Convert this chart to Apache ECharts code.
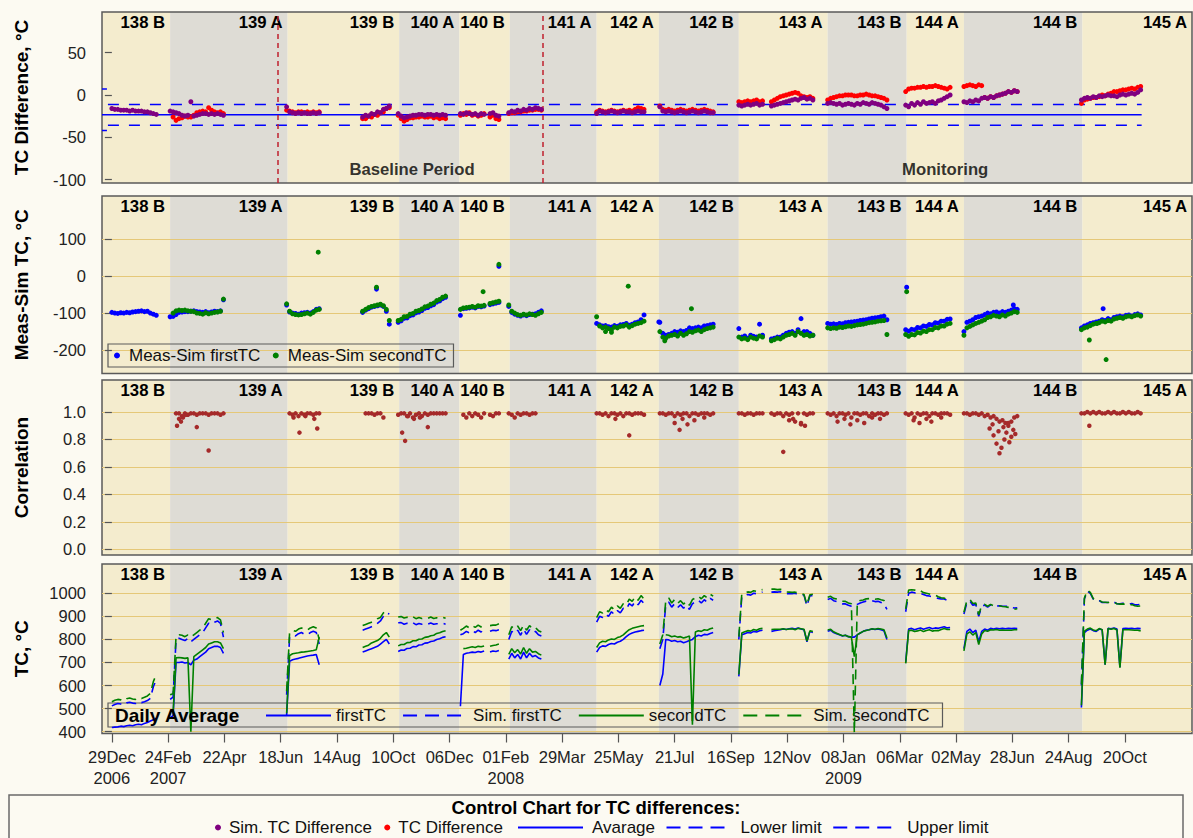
<!DOCTYPE html>
<html>
<head>
<meta charset="utf-8">
<title>TC control chart</title>
<script src="https://cdn.jsdelivr.net/npm/echarts@6/dist/echarts.min.js"></script>
<style>
  html, body { margin: 0; padding: 0; background: #FCFAF2; }
  #chart { width: 1193px; height: 838px; }
</style>
</head>
<body>
<div id="chart"></div>
<script>
// ---------- time base: day offsets counted from 29 Dec 2006 ----------
const DAY0 = '2006-12-29';
const dayOf = s => (Date.parse(s) - Date.parse(DAY0)) / 86400000;
const AXIS_START = '2006-12-19';
const AXIS_END = '2009-12-27';
const STEP = 3; // days between daily-average samples kept within a run

// x-axis ticks
const TICK_DATES = ['2006-12-29','2007-02-24','2007-04-22','2007-06-18','2007-08-14','2007-10-10','2007-12-06',
  '2008-02-01','2008-03-29','2008-05-25','2008-07-21','2008-09-16','2008-11-12','2009-01-08','2009-03-06',
  '2009-05-02','2009-06-28','2009-08-24','2009-10-20'];
const TICK_LABELS = ['29Dec\n2006','24Feb\n2007','22Apr','18Jun','14Aug','10Oct','06Dec','01Feb\n2008','29Mar',
  '25May','21Jul','16Sep','12Nov','08Jan\n2009','06Mar','02May','28Jun','24Aug','20Oct'];

// y-axis ticks per panel
const Y_TICKS_DIFF = [-100, -50, 0, 50];
const Y_TICKS_MS = [-200, -100, 0, 100];
const Y_TICKS_CORR = [0, 0.2, 0.4, 0.6, 0.8, 1.0];
const Y_TICKS_TC = [400, 500, 600, 700, 800, 900, 1000];

// campaigns (background bands)
const CAMPAIGNS = ['138 B','139 A','139 B','140 A','140 B','141 A','142 A','142 B','143 A','143 B','144 A','144 B','145 A'];
const CAMPAIGN_START = ['2006-12-19','2007-02-26','2007-06-25','2007-10-16','2007-12-16','2008-02-05','2008-05-03',
  '2008-07-05','2008-09-24','2008-12-23','2009-03-13','2009-05-10','2009-09-07'];

// period markers
const PERIOD_SPLITS = ['2007-06-15', '2008-03-09'];
const PERIOD_LABELS = [['2007-10-29', 'Baseline Period'], ['2009-04-21', 'Monitoring']];
const PERIOD_LABEL_Y = -87.5;

// control limits of the TC difference
const AVG_LINE = [[-10, -23.5], [1043, -23.5]];
const UPPER_LINE = [[-10, 7], [-5, 7], [-5, null], [-4, -11.2], [1043, -11.2]];
const LOWER_LINE = [[-10, -42], [-5, -42], [-5, null], [-4, -35.8], [1043, -35.8]];

// measurement runs: start date of each run, samples every STEP days
const RUN_START = ['2006-12-29','2007-02-26','2007-06-24','2007-09-09','2007-10-15','2007-12-17','2008-02-04',
  '2008-05-03','2008-07-06','2008-09-24','2008-10-27','2008-12-23','2009-03-12','2009-05-10','2009-09-06'];

// TC difference (firstTC - secondTC), simulated
const simDiff = [
  [-16,-17,-17,-18,-18,-18,-19,-18,-19,-19,-19,-20,-20,-21,-22,-23],
  [-19,-20,-21,-22,-24,-25,-24,-8,-25,-24,-23,-22,-22,-23,-22,-23,-22,-23,-24],
  [-14,-20,-21,-22,-21,-22,-21,-22,-22,-21,-22,-21],
  [-26,-24,-25,-22,-23,-20,-21,-17,-16,-13],
  [-22,-25,-27,-26,-25,-24,-24,-23,-23,-24,-23,-23,-24,-23,-24,-23,-24],
  [-22,-23,-21,-22,-23,-22,-24,-22,-23,null,-22,-21,-24,-25],
  [-21,-19,-20,-18,-19,-17,-18,-16,-17,-15,-16,-17],
  [-22,-19,-20,-21,-20,-19,-20,-21,-20,-19,-20,-20,-21,-20,-19,-20,-20],
  [-14,-19,-20,-19,-20,-21,-20,-19,-20,-21,-20,-19,-20,-21,-20,-19,-20,-21,-21],
  [-12,-13,-12,-11,-12,-11,-10,-12,-11],
  [-13,-12,-11,-10,-9,-8,-7,-6,-5,-6,-4,-3,-5,-4,-6],
  [-10,-9,-10,-11,-10,-12,-11,-10,-11,-12,-10,-11,-9,-10,-11,-9,-10,-11,-12,-14,-16],
  [-12,-14,-10,-12,-9,-11,-8,-10,-9,-8,-10,-7,-6,-4,-2,0],
  [-8,-9,-7,-8,-6,-7,-4,-3,-4,-2,-3,-1,0,1,2,4,3,5,4],
  [-6,-4,-3,-4,-2,-3,-1,-2,-1,0,-1,-1,-2,0,1,0,1,2,1,3,6]
];
// TC difference, measured
const tcDiff = [
  [],
  [null,-26,-30,-28,-27,-25,-26,-26,-24,-21,-20,-19,-20,-15,-18,-20,-21,-20,-22],
  [-18,-19,-20,-21,-20,-20,-21,-20,-21,-20,-21,-20],
  [-28,-28,-25,-26,-23,-24,-21,-20,-16,-15],
  [-24,-28,-31,-29,-27,-27,-26,-26,-25,-26,-26,-25,-27,-26,-28,-27,-28],
  [-24,-22,-23,-21,-24,-23,-25,-24,-22,null,-26,-24,-28,-29],
  [-22,-21,-21,-20,-20,-19,-19,-18,-18,-17,-17,-18],
  [-20,-18,-19,-20,-19,-18,-19,-20,-19,-18,-19,-18,-19,-17,-15,-16,-17],
  [-13,-17,-18,-17,-18,-19,-18,-17,-18,-19,-18,-17,-18,-19,-18,-17,-18,-19,-20],
  [-8,-9,-8,-7,-8,-7,-6,-8,-7],
  [-8,-6,-4,-2,-1,0,1,2,3,2,-1,-2,-3,-2,-4],
  [-6,-4,-3,-2,-1,-1,0,0,0,-1,-1,0,0,1,0,-1,-1,-2,-3,-4,-6],
  [4,7,8,8,9,9,10,9,10,10,11,10,9,8,7,9],
  [10,11,12,11,10,12,11,-3,-4,-2,-3,-1,0,1,2,4,3,5,4],
  [-10,-6,-5,-4,-3,-3,-2,0,-1,1,2,4,4,5,6,6,7,8,7,9,10]
];

// measured minus simulated TC
const msFirst = [
  [-98,-100,-101,-99,-100,-98,-99,-97,-96,-95,-94,-96,-95,-100,-103,-106],
  [-110,-109,-104,-98,-97,-96,-96,-95,-94,-96,-97,-98,-96,-99,-97,-95,-96,-94,-64],
  [-78,-97,-100,-101,-103,-100,-99,-98,-100,-96,-90,-88],
  [-98,-92,-88,-84,-82,-80,-78,-82,-95,-130],
  [-125,-121,-114,-113,-107,-105,-99,-97,-93,-87,-85,-80,-77,-70,-67,-61,-57],
  [-106,-88,-87,-86,-84,-86,-82,-83,-81,null,-77,-75,-73,-71],
  [-82,-98,-103,-106,-108,-105,-107,-104,-103,-102,-98,-94],
  [-128,-132,-135,-134,-137,-138,-134,-136,-132,-131,-128,-133,-130,-126,-124,-118,-105],
  [-125,-155,-160,-158,-155,-150,-152,-148,-150,-147,-140,-142,-140,-138,-140,-135,-134,-132,-130],
  [-142,-165,-162,-168,-160,-163,-165,-130,-160],
  [-170,-168,-165,-165,-160,-155,-152,-150,-155,-145,-115,-150,-150,-155,-160],
  [-128,-130,-129,-131,-128,-129,-126,-125,-124,-123,-122,-120,-119,-118,-116,-114,-113,-112,-110,-108,-118],
  [-145,-149,-144,-145,-139,-140,-135,-136,-131,-132,-126,-127,-122,-122,-117,-116],
  [-150,-125,-122,-118,-112,-110,-108,-104,-100,-102,-98,-97,-100,-96,-98,-95,-92,-88,-90],
  [-140,-135,-132,-128,-126,-124,-122,-118,-120,-115,-118,-112,-110,-108,-110,-106,-105,-108,-104,-102,-105]
];
const msSecond = [
  [],
  [null,-100,-94,-92,-93,-92,-94,-95,-96,-100,-101,-103,-99,-102,-100,-98,-97,-95,-62],
  [-75,-95,-102,-104,-105,-104,-102,-100,-103,-98,-92,-90],
  [-95,-90,-85,-82,-80,-78,-76,-80,-90,-120],
  [-120,-117,-110,-109,-103,-101,-95,-93,-89,-83,-81,-76,-73,-66,-63,-57,-54],
  [-90,-86,-85,-84,-82,-84,-80,-81,-79,null,-74,-72,-70,-68],
  [-78,-95,-100,-104,-106,-103,-105,-102,-104,-106,-102,-98],
  [-110,-135,-140,-138,-142,-145,-138,-140,-136,-135,-132,-138,-134,-130,-128,-126,-122],
  [-150,-165,-168,-162,-160,-158,-162,-155,-160,-156,-150,-152,-148,-146,-150,-145,-142,-140,-138],
  [-165,-170,-168,-172,-165,-168,-170,-162,-165],
  [-175,-172,-168,-170,-165,-160,-158,-155,-160,-150,-155,-160,-158,-162,-160],
  [-140,-142,-140,-141,-138,-139,-137,-135,-136,-134,-132,-131,-130,-128,-126,-125,-124,-122,-121,-120,-158],
  [-158,-163,-158,-159,-153,-154,-149,-150,-145,-145,-139,-140,-135,-135,-130,-128],
  [-160,-140,-136,-132,-128,-125,-122,-118,-112,-110,-106,-108,-110,-105,-108,-103,-100,-96,-98],
  [-145,-140,-138,-134,-130,-128,-126,-122,-124,-120,-122,-116,-114,-112,-114,-110,-108,-110,-107,-105,-108]
];
// isolated days: [day offset, value]
const msFirstExtra = [[268,-35],[392,27],[554,-124],[805,-30],[913,-78],[1004,-88]];
const msSecondExtra = [[209,65],[268,-30],[376,-42],[392,32],[500,-150],[506,-152],[523,-27],[560,-175],
  [587,-88],[805,-42],[990,-173],[998,-128],[1007,-226]];

// correlation between measured and simulated TC
const corr = [
  [],
  [null,null,0.99,0.99,0.97,0.99,0.98,0.99,0.99,0.98,0.99,0.99,0.99,0.98,0.99,0.99,0.99,0.98,0.99],
  [null,0.99,0.98,0.99,0.97,0.99,0.98,0.99,0.99,0.98,0.99,0.99],
  [null,0.99,0.99,0.99,0.98,0.99,0.99,0.96,null,null],
  [0.98,0.99,0.99,0.97,0.99,0.96,0.98,0.99,0.97,0.99,0.98,0.99,0.99,0.99,0.99,0.99,0.99],
  [null,0.98,0.96,0.99,0.97,0.99,0.98,0.96,0.99,null,0.98,0.97,0.99,0.99],
  [0.99,0.98,0.96,0.99,0.98,0.99,0.99,0.98,0.99,0.99,null,null],
  [0.99,0.99,0.98,0.99,0.97,0.99,0.99,0.98,0.99,0.97,0.99,0.99,0.98,0.99,0.99,0.99,0.98],
  [0.99,0.99,0.98,0.99,0.99,0.97,0.99,0.98,0.99,0.99,0.97,0.99,0.99,0.98,0.99,0.99,0.99,0.98,0.99],
  [0.99,0.99,0.98,0.99,0.99,0.98,0.99,0.99,0.99],
  [0.99,0.98,0.99,0.99,0.97,0.99,0.98,0.99,0.93,0.99,0.91,0.99,0.98,0.99,0.99],
  [0.99,0.98,0.99,0.97,0.99,0.99,0.98,0.99,0.96,0.99,0.99,0.98,0.99,0.99,0.97,0.99,0.98,0.99,0.99,0.98,0.99],
  [0.99,0.98,0.99,0.96,0.99,0.98,0.99,0.99,0.97,0.99,0.99,0.98,0.99,0.99,0.99,0.98],
  [0.99,0.99,0.98,0.99,0.99,0.98,0.99,0.97,0.98,0.96,0.97,0.95,0.93,0.94,0.92,0.90,0.93,0.96,0.97],
  [0.99,0.99,1.0,0.99,1.0,0.99,1.0,0.99,0.99,1.0,0.99,1.0,0.99,0.99,1.0,0.99,1.0,0.99,0.99,1.0,0.99]
];
const corrExtra = [[66,0.90],[68,0.95],[70,0.93],[72,0.96],[75,0.98],[86,0.89],[98,0.72],[184,0.96],[190,0.85],
  [196,0.97],[205,0.95],[208,0.88],[294,0.85],[297,0.79],[300,0.97],[306,0.95],[312,0.96],[320,0.89],[510,0.95],
  [524,0.83],[570,0.92],[575,0.87],[578,0.95],[583,0.91],[590,0.94],[600,0.96],[680,0.71],[686,0.94],[690,0.95],
  [698,0.92],[702,0.90],[735,0.93],[742,0.95],[748,0.91],[755,0.94],[762,0.92],[770,0.96],[778,0.95],[812,0.94],
  [818,0.92],[825,0.95],[830,0.93],[840,0.96],[889,0.88],[892,0.91],[893,0.83],[896,0.77],[898,0.86],[899,0.70],
  [901,0.74],[903,0.89],[904,0.80],[906,0.85],[908,0.92],[909,0.78],[911,0.82],[913,0.87],[915,0.84],[990,0.90]];

// daily average TC
const firstTC = [
  [418,420,421,424,422,426,428,426,430,432,430,436,440,446,452,458],
  [460,470,700,700,702,698,700,690,710,715,725,735,745,760,765,770,770,765,740],
  [470,705,712,715,718,722,725,728,730,732,735,690],
  [745,750,755,760,765,770,780,790,800,780],
  [748,754,753,761,762,769,768,776,777,784,785,791,793,800,803,809,812],
  [510,735,740,742,745,743,748,745,750,null,745,750,748,752],
  [715,740,720,735,715,745,720,740,725,730,720,715],
  [745,765,772,770,778,782,780,788,792,800,812,822,828,832,835,838,840],
  [600,650,800,798,792,795,790,792,786,790,795,800,812,818,815,822,820,826,830],
  [640,820,825,830,828,835,832,838,840],
  [835,838,840,842,845,843,846,848,845,850,845,842,790,835,830],
  [835,840,830,825,820,815,818,812,810,810,820,828,835,840,842,845,843,845,842,838,800],
  [700,845,848,842,846,850,844,848,852,846,850,848,852,855,850,852],
  [760,835,845,830,840,790,835,845,840,848,845,848,846,848,846,848,847,848,847],
  [505,830,840,845,838,835,845,842,690,848,846,850,845,680,847,848,847,848,846,848,847]
];
const simFirstTC = [
  [512,518,522,520,515,525,528,524,522,530,526,530,535,545,595,625],
  [540,550,800,805,800,795,805,790,800,810,820,830,850,870,865,875,880,870,810],
  [560,810,820,815,825,830,822,820,830,835,830,780],
  [840,845,850,855,860,870,880,900,915,910],
  [872,873,866,870,866,872,864,869,866,869,866,871,866,868,867,870,866],
  [820,825,835,828,838,830,840,832,845,null,835,840,838,842],
  [800,835,825,840,818,845,822,842,828,835,820,815],
  [875,900,895,910,900,920,908,925,915,935,930,955,945,965,950,970,955],
  [760,800,950,962,940,955,938,950,935,948,930,955,962,970,958,972,962,978,970],
  [800,985,990,995,992,1000,998,1002,1005],
  [1005,1006,1005,1007,1005,998,998,998,1000,995,995,992,945,990,990],
  [973,978,968,964,958,954,954,948,944,942,952,958,962,966,966,968,964,965,960,955,930],
  [920,1000,1005,1002,998,1000,995,990,988,985,982,978,975,975,970,968],
  [910,960,967,948,952,900,943,949,940,950,943,945,946,944,944,943,939,936,937],
  [600,975,1010,1000,975,965,968,960,960,960,962,962,955,955,957,954,952,956,950,950,952]
];
const secondTC = [
  [],
  [null,480,720,722,720,718,720,400,725,735,745,755,765,780,785,790,790,785,760],
  [480,730,738,740,742,745,746,748,750,752,755,810],
  [765,770,775,785,790,795,805,820,830,810],
  [772,778,778,786,787,794,794,801,802,809,811,816,818,826,829,834,838],
  [null,760,762,765,768,765,770,768,772,null,770,774,776,780],
  [735,760,742,756,737,765,740,760,745,748,738,732],
  [765,785,792,790,798,802,800,808,812,820,832,842,848,852,855,858,860],
  [null,null,820,818,812,815,810,812,806,810,815,430,832,838,835,842,840,846,850],
  [648,828,833,838,836,843,840,846,848],
  [843,844,844,844,846,843,845,846,842,848,846,844,793,837,834],
  [841,844,833,827,821,816,818,812,810,725,821,828,835,839,842,846,844,847,845,842,806],
  [696,838,840,834,837,841,834,839,842,836,839,838,843,847,843,843],
  [750,824,833,819,830,778,824,839,835,842,841,843,840,841,840,840,840,842,842],
  [515,836,845,849,841,838,847,842,691,847,844,847,841,677,842,842,842,841,840,840,837]
];
const simSecondTC = [
  [530,536,540,538,533,543,546,542,540,548,544,549,555,566,617,648],
  [560,565,815,820,818,812,820,810,820,830,840,850,870,890,885,890,895,885,830],
  [575,830,840,835,845,850,842,840,850,855,850,800],
  [860,865,870,875,880,890,895,915,925,920],
  [897,899,893,896,891,898,890,895,891,894,891,897,891,894,892,896,892],
  [840,848,858,850,860,852,862,854,866,null,860,862,862,868],
  [820,855,845,858,838,862,840,860,846,852,838,832],
  [895,920,915,930,920,940,928,945,935,955,950,975,965,985,970,990,975],
  [780,820,968,980,958,973,956,968,953,966,948,973,980,988,976,990,980,996,988],
  [812,998,1002,1006,1004,1011,1008,1014,1016],
  [1018,1018,1016,1017,1014,1006,1005,1004,1005,1001,999,995,950,994,996],
  [983,987,978,975,968,966,965,958,955,395,962,969,971,976,977,977,974,976,972,969,946],
  [932,1014,1015,1014,1007,1011,1003,1000,997,993,992,985,981,979,972,968],
  [918,969,974,956,958,907,947,952,944,952,946,946,946,943,942,939,936,931,933],
  [606,979,1013,1004,977,968,969,962,961,960,963,961,955,953,954,952,948,951,946,944,945]
];

// ---------- styling ----------
const FONT = '"Liberation Sans", Arial, Helvetica, sans-serif';
const BAND_YELLOW = '#F4ECCE';
const BAND_GREY = '#DEDCD5';
const GRID_GOLD = '#E5C878';
const C_PURPLE = '#800080', C_RED = '#FF0000', C_BLUE = '#0000FF', C_GREEN = '#008000', C_CORR = '#A52A2A';
const LEGEND_DASH = [14, 8];

const X_MIN = dayOf(AXIS_START), X_MAX = dayOf(AXIS_END);
const TICK_DAYS = TICK_DATES.map(dayOf);

// ---------- data helpers ----------
function runPoints(runs) {
  const out = [];
  runs.forEach((vals, r) => {
    const d0 = dayOf(RUN_START[r]);
    vals.forEach((v, i) => { if (v !== null) out.push([d0 + STEP * i, v]); });
  });
  return out;
}
function runLine(runs) {
  const out = [];
  runs.forEach((vals, r) => {
    if (!vals.length) return;
    const d0 = dayOf(RUN_START[r]);
    vals.forEach((v, i) => out.push([d0 + STEP * i, v]));
    out.push([d0 + STEP * vals.length, null]); // gap until next run
  });
  return out;
}

// ---------- layout ----------
const GRID_BOX = [
  { top: 12, height: 171 },
  { top: 196, height: 177.5 },
  { top: 380, height: 175 },
  { top: 564, height: 169.5 }
];
const grid = GRID_BOX.map(g => ({
  left: 102, width: 1090, top: g.top, height: g.height,
  show: true, borderColor: '#5a5a5a', borderWidth: 1.5, backgroundColor: 'transparent'
}));

function yAxis(gi, min, max, ticks, name, fmt, split) {
  return {
    type: 'value', gridIndex: gi, min: min, max: max,
    name: name, nameLocation: 'middle', nameRotate: 90, nameGap: 71,
    nameTextStyle: { fontFamily: FONT, fontSize: 19, fontWeight: 'bold', color: '#000' },
    axisLine: { show: false },
    axisTick: { show: true, length: 7, customValues: ticks, lineStyle: { color: '#555', width: 1.2 } },
    axisLabel: { customValues: ticks, margin: 16, fontFamily: FONT, fontSize: 16.5, color: '#222', formatter: fmt },
    splitLine: { show: split, lineStyle: { color: GRID_GOLD, width: 1 } }
  };
}

const xAxis = [0, 1, 2].map(gi => ({ type: 'value', gridIndex: gi, min: X_MIN, max: X_MAX, show: false }));
xAxis.push({
  type: 'value', gridIndex: 3, min: X_MIN, max: X_MAX,
  axisLine: { show: false }, splitLine: { show: false },
  axisTick: { show: true, length: 9, customValues: TICK_DAYS, lineStyle: { color: '#555', width: 1.2 } },
  axisLabel: {
    customValues: TICK_DAYS, margin: 13, lineHeight: 21, fontFamily: FONT, fontSize: 16.5, color: '#222',
    formatter: v => { const k = TICK_DAYS.indexOf(v); return k >= 0 ? TICK_LABELS[k] : ''; }
  }
});

const yAxes = [
  yAxis(0, -104, 98, Y_TICKS_DIFF, 'TC Difference, °C', v => String(v), false),
  yAxis(1, -263.7, 217.3, Y_TICKS_MS, 'Meas-Sim TC, °C', v => String(v), true),
  yAxis(2, -0.04, 1.2327, Y_TICKS_CORR, 'Correlation', v => v.toFixed(1), true),
  yAxis(3, 392.2, 1127, Y_TICKS_TC, 'TC, °C', v => String(v), true)
];

// campaign bands with their names in the upper right corner
function bandSeries(gi) {
  return {
    type: 'custom', xAxisIndex: gi, yAxisIndex: gi, z: -1, silent: true, clip: true,
    encode: { x: [0, 1] },
    data: CAMPAIGNS.map((c, k) => [dayOf(CAMPAIGN_START[k]),
      k + 1 < CAMPAIGNS.length ? dayOf(CAMPAIGN_START[k + 1]) : X_MAX, k]),
    renderItem: function (params, api) {
      const cs = params.coordSys;
      const x0 = api.coord([api.value(0), 0])[0];
      const x1 = api.coord([api.value(1), 0])[0];
      const k = api.value(2);
      return {
        type: 'group', children: [
          { type: 'rect', shape: { x: x0, y: cs.y, width: x1 - x0, height: cs.height },
            style: { fill: k % 2 ? BAND_GREY : BAND_YELLOW } },
          { type: 'text', x: x1 - 5, y: cs.y + 10,
            style: { text: CAMPAIGNS[k], align: 'right', verticalAlign: 'middle', fill: '#000',
                     font: 'bold 16.7px ' + FONT } }
        ]
      };
    }
  };
}

function scatter(name, gi, data, color, size, z) {
  return { name: name, type: 'scatter', xAxisIndex: gi, yAxisIndex: gi, data: data,
    symbol: 'circle', symbolSize: size, itemStyle: { color: color, opacity: 1 }, z: z, silent: true };
}
function tcLine(name, data, color, dashed, z) {
  return { name: name, type: 'line', xAxisIndex: 3, yAxisIndex: 3, data: data, showSymbol: false,
    symbol: 'none', connectNulls: false, z: z, silent: true,
    itemStyle: { color: color },
    lineStyle: { color: color, width: 1.6, type: dashed ? [10, 6] : 'solid' } };
}
function limitLine(name, data, dashed) {
  return { name: name, type: 'line', xAxisIndex: 0, yAxisIndex: 0, data: data, showSymbol: false,
    symbol: 'none', connectNulls: false, z: 3, silent: true,
    itemStyle: { color: C_BLUE },
    lineStyle: { color: C_BLUE, width: 1.5, type: dashed ? [11, 10] : 'solid' } };
}

const series = [
  bandSeries(0), bandSeries(1), bandSeries(2), bandSeries(3),

  scatter('TC Difference', 0, runPoints(tcDiff), C_RED, 5, 4),
  scatter('Sim. TC Difference', 0, runPoints(simDiff), C_PURPLE, 5, 5),
  Object.assign(limitLine('Avarage', AVG_LINE, false), {
    markLine: {
      silent: true, symbol: 'none', label: { show: false },
      lineStyle: { color: '#C0202E', type: [5, 4], width: 1.5 },
      data: PERIOD_SPLITS.map(d => ({ xAxis: dayOf(d) }))
    }
  }),
  limitLine('Lower limit', LOWER_LINE, true),
  limitLine('Upper limit', UPPER_LINE, true),
  {
    type: 'scatter', xAxisIndex: 0, yAxisIndex: 0, symbolSize: 1, silent: true, z: 6,
    itemStyle: { color: 'transparent' },
    data: PERIOD_LABELS.map(p => ({ value: [dayOf(p[0]), PERIOD_LABEL_Y], name: p[1] })),
    label: { show: true, position: 'inside', formatter: '{b}', fontFamily: FONT, fontWeight: 'bold',
             fontSize: 16.7, color: '#000' }
  },

  scatter('Meas-Sim firstTC', 1, runPoints(msFirst).concat(msFirstExtra), C_BLUE, 5, 4),
  scatter('Meas-Sim secondTC', 1, runPoints(msSecond).concat(msSecondExtra), C_GREEN, 5, 5),

  scatter('Correlation', 2, runPoints(corr).concat(corrExtra), C_CORR, 4.5, 4),

  tcLine('firstTC', runLine(firstTC), C_BLUE, false, 4),
  tcLine('Sim. firstTC', runLine(simFirstTC), C_BLUE, true, 5),
  tcLine('secondTC', runLine(secondTC), C_GREEN, false, 6),
  tcLine('Sim. secondTC', runLine(simSecondTC), C_GREEN, true, 7)
];

const legendText = { fontFamily: FONT, fontSize: 17, color: '#111', lineHeight: 19, padding: [0, 0, 0, 4] };
// line-type legend entries show only the stroke, no marker
const noMarker = { opacity: 0 };
const legend = [
  { // panel 2
    left: 108, top: 344, orient: 'horizontal', selectedMode: false,
    padding: [2, 7, 2, 6], borderColor: '#5a5a5a', borderWidth: 1.2,
    itemWidth: 6, itemHeight: 6, itemGap: 12.5, icon: 'circle',
    textStyle: legendText,
    data: ['Meas-Sim firstTC', 'Meas-Sim secondTC']
  },
  { // panel 4
    left: 108, top: 703, orient: 'horizontal', selectedMode: false,
    padding: [3, 13, 2, 157], borderColor: '#5a5a5a', borderWidth: 1.2,
    itemWidth: 65, itemHeight: 14, itemGap: 16, itemStyle: noMarker,
    textStyle: Object.assign({}, legendText, { padding: 0 }),
    data: [
      { name: 'firstTC' },
      { name: 'Sim. firstTC', lineStyle: { type: LEGEND_DASH } },
      { name: 'secondTC' },
      { name: 'Sim. secondTC', lineStyle: { type: LEGEND_DASH } }
    ]
  },
  { // control chart markers
    left: 215, top: 818, orient: 'horizontal', selectedMode: false, padding: 0,
    itemWidth: 6, itemHeight: 6, itemGap: 12, icon: 'circle',
    textStyle: Object.assign({}, legendText, { padding: [0, 0, 0, 3] }),
    data: ['Sim. TC Difference', 'TC Difference']
  },
  { // control chart lines
    left: 517, top: 818, orient: 'horizontal', selectedMode: false, padding: 0,
    itemWidth: 65, itemHeight: 14, itemGap: 10.5, itemStyle: noMarker,
    textStyle: legendText,
    data: [
      { name: 'Avarage' },
      { name: 'Lower limit', lineStyle: { type: LEGEND_DASH } },
      { name: 'Upper limit', lineStyle: { type: LEGEND_DASH } }
    ]
  }
];

const graphic = [
  { type: 'rect', z: 100, silent: true, shape: { x: 9, y: 795, width: 1174, height: 60 },
    style: { fill: 'none', stroke: '#6a6a6a', lineWidth: 1.5 } },
  { type: 'text', z: 100, silent: true, x: 596, y: 807,
    style: { text: 'Control Chart for TC differences:', align: 'center', verticalAlign: 'middle',
             font: 'bold 18.5px ' + FONT, fill: '#000' } },
  { type: 'text', z: 100, silent: true, x: 115, y: 715.5,
    style: { text: 'Daily Average', align: 'left', verticalAlign: 'middle',
             font: 'bold 19px ' + FONT, fill: '#000' } }
];

const chart = echarts.init(document.getElementById('chart'), null, { renderer: 'svg' });
chart.setOption({
  animation: false,
  backgroundColor: '#FCFAF2',
  textStyle: { fontFamily: FONT },
  grid: grid,
  xAxis: xAxis,
  yAxis: yAxes,
  legend: legend,
  graphic: graphic,
  series: series
});
</script>
</body>
</html>
